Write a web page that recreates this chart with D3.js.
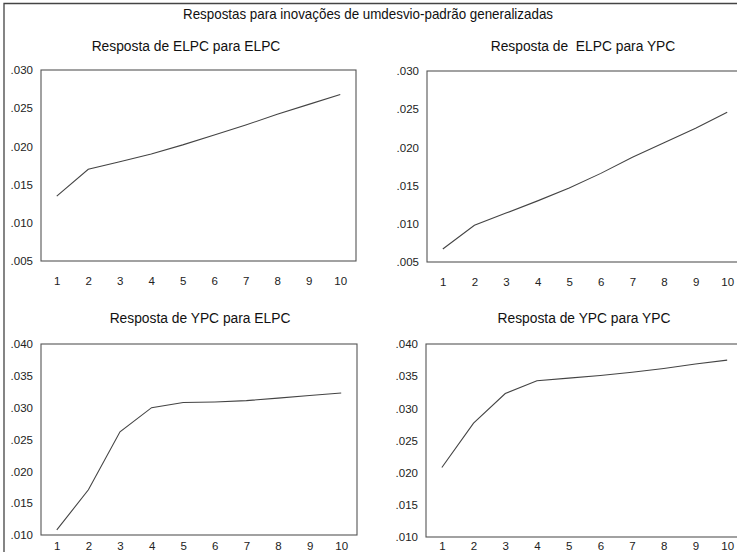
<!DOCTYPE html>
<html>
<head>
<meta charset="utf-8">
<script src="https://cdn.jsdelivr.net/npm/d3@7"></script>
<style>
  body { margin: 0; background: #fff; }
  svg { display: block; font-family: Arial, "Liberation Sans", sans-serif; }
  text { white-space: pre; }
</style>
</head>
<body>
<svg id="irf" width="737" height="552"></svg>
<script>
var periods = [1, 2, 3, 4, 5, 6, 7, 8, 9, 10]

/** responses */
var elpcToElpc = [0.0135, 0.0170, 0.0180, 0.0190, 0.0202, 0.0215, 0.0228, 0.0242, 0.0255, 0.0268]
var elpcToYpc = [0.0067, 0.0098, 0.0114, 0.0130, 0.0147, 0.0166, 0.0187, 0.0206, 0.0225, 0.0246]
var ypcToElpc = [0.0108, 0.0171, 0.0262, 0.0300, 0.0308, 0.0309, 0.0311, 0.0315, 0.0319, 0.0323]
var ypcToYpc = [0.0208, 0.0277, 0.0323, 0.0343, 0.0347, 0.0351, 0.0356, 0.0362, 0.0369, 0.0375]

var topTicks = [0.005, 0.010, 0.015, 0.020, 0.025, 0.030]
var bottomTicks = [0.010, 0.015, 0.020, 0.025, 0.030, 0.035, 0.040]

var mainTitle = 'Respostas para inovações de umdesvio-padrão generalizadas'
var panelTitles = ['Resposta de ELPC para ELPC', 'Resposta de  ELPC para YPC', 'Resposta de YPC para ELPC', 'Resposta de YPC para YPC']

var svg = d3.select('#irf')

/** scan border, only top and left survive in the picture */
svg.append('path').attr('d', 'M4,552V3.5H737').attr('fill', 'none').attr('stroke', '#444').attr('stroke-width', 1.3)

svg.append('text').attr('x', 368).attr('y', 19).attr('text-anchor', 'middle')
  .attr('font-size', 14.5).attr('textLength', 370).attr('lengthAdjust', 'spacingAndGlyphs')
  .attr('fill', '#111').text(mainTitle)

var panels = [
  {values: elpcToElpc, ticks: topTicks, title: panelTitles[0], x0: 41, x1: 356, y0: 70, y1: 261, titleX: 186, titleY: 51, pad: 16},
  {values: elpcToYpc, ticks: topTicks, title: panelTitles[1], x0: 427, x1: 743, y0: 71, y1: 262, titleX: 583, titleY: 51, pad: 16},
  {values: ypcToElpc, ticks: bottomTicks, title: panelTitles[2], x0: 41, x1: 357, y0: 344, y1: 535, titleX: 200, titleY: 323, pad: 7},
  {values: ypcToYpc, ticks: bottomTicks, title: panelTitles[3], x0: 426, x1: 743, y0: 344, y1: 537, titleX: 584, titleY: 323, pad: 5}
]

var fmt = function (v) { return d3.format('.3f')(v).replace(/^0/, '') }

panels.forEach(function (p) {
  var x = d3.scaleLinear().domain([0.5, 10.5]).range([p.x0, p.x1])
  var y = d3.scaleLinear().domain(d3.extent(p.ticks)).range([p.y1, p.y0])
  var g = svg.append('g')

  g.append('rect').attr('x', p.x0).attr('y', p.y0).attr('width', p.x1 - p.x0).attr('height', p.y1 - p.y0)
    .attr('fill', 'none').attr('stroke', '#555').attr('stroke-width', 1.1)

  g.append('text').attr('x', p.titleX).attr('y', p.titleY).attr('text-anchor', 'middle')
    .attr('font-size', 13.8).attr('fill', '#111').text(p.title)

  /** y labels without axis line */
  var yAxis = g.append('g').attr('transform', 'translate(' + p.x0 + ',0)')
    .call(d3.axisLeft(y).tickValues(p.ticks).tickFormat(fmt).tickSize(0).tickPadding(8))
  yAxis.select('.domain').remove()
  yAxis.selectAll('text').attr('font-size', 11.5).attr('fill', '#222').attr('font-family', 'Arial, "Liberation Sans", sans-serif')

  var xAxis = g.append('g').attr('transform', 'translate(0,' + p.y1 + ')')
    .call(d3.axisBottom(x).tickValues(periods).tickFormat(d3.format('d')).tickSize(0).tickPadding(p.pad))
  xAxis.select('.domain').remove()
  xAxis.selectAll('text').attr('font-size', 11.5).attr('fill', '#222').attr('font-family', 'Arial, "Liberation Sans", sans-serif')

  var line = d3.line().x(function (d, i) { return x(periods[i]) }).y(function (d) { return y(d) })
  g.append('path').datum(p.values).attr('d', line)
    .attr('fill', 'none').attr('stroke', '#444').attr('stroke-width', 1.1)
})
</script>
</body>
</html>
